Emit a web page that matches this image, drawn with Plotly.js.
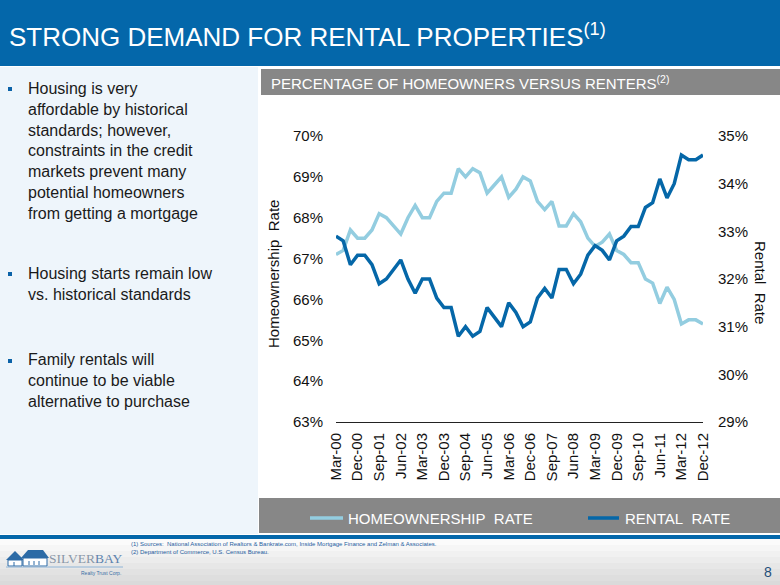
<!DOCTYPE html>
<html>
<head>
<meta charset="utf-8">
<script src="https://cdn.plot.ly/plotly-3.0.1.min.js"></script>
<style>
html,body{margin:0;padding:0;background:#fff;}
#chart{width:780px;height:585px;}
</style>
</head>
<body>
<div id="chart"></div>
<script>
// ---------- DATA ----------
const quarters = [
  "Mar-00","Jun-00","Sep-00","Dec-00",
  "Mar-01","Jun-01","Sep-01","Dec-01",
  "Mar-02","Jun-02","Sep-02","Dec-02",
  "Mar-03","Jun-03","Sep-03","Dec-03",
  "Mar-04","Jun-04","Sep-04","Dec-04",
  "Mar-05","Jun-05","Sep-05","Dec-05",
  "Mar-06","Jun-06","Sep-06","Dec-06",
  "Mar-07","Jun-07","Sep-07","Dec-07",
  "Mar-08","Jun-08","Sep-08","Dec-08",
  "Mar-09","Jun-09","Sep-09","Dec-09",
  "Mar-10","Jun-10","Sep-10","Dec-10",
  "Mar-11","Jun-11","Sep-11","Dec-11",
  "Mar-12","Jun-12","Sep-12","Dec-12"
];
const homeownershipRate = [
  67.1,67.2,67.7,67.5, 67.5,67.7,68.1,68.0, 67.8,67.6,68.0,68.3,
  68.0,68.0,68.4,68.6, 68.6,69.2,69.0,69.2, 69.1,68.6,68.8,69.0,
  68.5,68.7,69.0,68.9, 68.4,68.2,68.4,67.8, 67.8,68.1,67.9,67.5,
  67.3,67.4,67.6,67.2, 67.1,66.9,66.9,66.5, 66.4,65.9,66.3,66.0,
  65.4,65.5,65.5,65.4
];
const rentalRate = [
  32.9,32.8,32.3,32.5, 32.5,32.3,31.9,32.0, 32.2,32.4,32.0,31.7,
  32.0,32.0,31.6,31.4, 31.4,30.8,31.0,30.8, 30.9,31.4,31.2,31.0,
  31.5,31.3,31.0,31.1, 31.6,31.8,31.6,32.2, 32.2,31.9,32.1,32.5,
  32.7,32.6,32.4,32.8, 32.9,33.1,33.1,33.5, 33.6,34.1,33.7,34.0,
  34.6,34.5,34.5,34.6
];
const tickLabels = ["Mar-00","Dec-00","Sep-01","Jun-02","Mar-03","Dec-03","Sep-04","Jun-05","Mar-06",
  "Dec-06","Sep-07","Jun-08","Mar-09","Dec-09","Sep-10","Jun-11","Mar-12","Dec-12"];
const leftTicks = [63,64,65,66,67,68,69,70];
const rightTicks = [29,30,31,32,33,34,35];
const seriesNames = ["HOMEOWNERSHIP\u00A0 RATE","RENTAL\u00A0 RATE"];

// ---------- LAYOUT HELPERS ----------
const W = 780, H = 585;
const px = x => x / W;
const py = y => 1 - y / H;
const FONT = "Liberation Sans, Arial, Helvetica, sans-serif";
const LIGHT = "#93CDE0", DARK = "#0567A8", BLUE = "#0467AA", GREY = "#878787";

function rect(x0, y0, x1, y1, color, layer) {
  return {type:"rect", xref:"paper", yref:"paper", x0:px(x0), x1:px(x1), y0:py(y1), y1:py(y0),
          fillcolor:color, line:{width:0}, layer:layer || "below"};
}
function pathShape(points, fill, lineColor, lw) {
  let d = points.map((p,i) => (i ? "L" : "M") + px(p[0]) + "," + py(p[1])).join(" ") + " Z";
  return {type:"path", xref:"paper", yref:"paper", path:d, fillcolor:fill,
          line:{color:lineColor || fill, width:lw || 0}, layer:"above"};
}
function lineShape(x0, y0, x1, y1, color, w) {
  return {type:"line", xref:"paper", yref:"paper", x0:px(x0), x1:px(x1), y0:py(y0), y1:py(y1),
          line:{color:color, width:w}, layer:"above"};
}
function ann(text, x, y, size, color, opts) {
  return Object.assign({xref:"paper", yref:"paper", x:px(x), y:py(y), text:text, showarrow:false,
    xanchor:"left", yanchor:"middle", align:"left", font:{family:FONT, size:size, color:color}}, opts || {});
}

const shapes = [];
// top title band
shapes.push(rect(0, 0, 780, 66, BLUE));
// left panel background
shapes.push(rect(0, 67, 258, 534, "#EEF5FB"));
// header bar
shapes.push(rect(261, 69, 780, 95, GREY));
// legend bar
shapes.push(rect(259, 498, 780, 533, GREY));
// footer gradient
const footerSteps = ["#FBFBFB","#F6F6F6","#F1F1F1","#ECECEC","#E7E7E7","#E2E2E2","#DEDEDE","#DADADA"];
footerSteps.forEach((c, i) => shapes.push(rect(0, 539 + i * 6, 780, 545 + i * 6 + 1, c)));
// bottom blue rule
shapes.push(rect(0, 535, 780, 539, BLUE));
// bullets
[[87],[272],[359]].forEach(b => shapes.push(rect(8, b[0], 12, b[0] + 4, "#0B62A8", "above")));
// legend samples (colours taken from the series)
shapes.push(lineShape(310, 518, 343, 518, LIGHT, 3.5));
shapes.push(lineShape(588, 518, 619, 518, DARK, 3.5));
// logo houses
shapes.push(pathShape([[6,560],[15,551],[24,560]], "#2C6BA6"));
shapes.push(pathShape([[8,560],[22,560],[22,566],[8,566]], "#FFFFFF", "#2C6BA6", 1));
shapes.push(pathShape([[21,558],[28,550],[43,550],[49,558]], "#2C6BA6"));
shapes.push(pathShape([[23,558],[47,558],[47,566],[23,566]], "#FFFFFF", "#2C6BA6", 1));
[[14,562],[29,561],[34,561],[39,561]].forEach(w => shapes.push(lineShape(w[0], w[1], w[0], w[1] + 4, "#2C6BA6", 1)));
shapes.push(lineShape(6, 567, 123, 567, "#8FB4D6", 1));

const annotations = [
  ann("STRONG DEMAND FOR RENTAL PROPERTIES<sup>(1)</sup>", 7, 35, 26, "#FFFFFF"),
  ann("PERCENTAGE OF HOMEOWNERS VERSUS RENTERS<sup>(2)</sup>", 269, 82.5, 15, "#FFFFFF"),
  ann("Housing is very<br>affordable by historical<br>standards; however,<br>constraints in the credit<br>markets prevent many<br>potential homeowners<br>from getting a mortgage",
      26, 151, 16, "#1A1A1A"),
  ann("Housing starts remain low<br>vs. historical standards", 26, 284, 16, "#1A1A1A"),
  ann("Family rentals will<br>continue to be viable<br>alternative to purchase", 26, 380.5, 16, "#1A1A1A"),
  ann("Homeownership\u00A0 Rate", 273, 274, 15, "#111111", {xanchor:"center", textangle:-90}),
  ann("Rental\u00A0 Rate", 761, 282, 15, "#111111", {xanchor:"center", textangle:90}),
  ann(seriesNames[0], 346, 518, 15, "#FFFFFF"),
  ann(seriesNames[1], 623, 518, 15, "#FFFFFF"),
  ann("(1) Sources:\u00A0 National Association of Realtors &amp; Bankrate.com, Inside Mortgage Finance and Zelman &amp; Associates.<br>(2) Department of Commerce, U.S. Census Bureau.",
      129, 548, 6, "#1F5D9E"),
  ann("8", 768, 572, 14, "#1F4E79", {xanchor:"center"}),
  ann("<span style='color:#8A97A8'>SILVER</span><span style='color:#5E83AE'>BAY</span>", 47, 558, 13.5, "#8A97A8",
      {font:{family:"Liberation Serif, Times New Roman, serif", size:13.5, color:"#8A97A8"}}),
  ann("Realty Trust Corp.", 123, 573, 5, "#3A6EA5", {xanchor:"right"})
];

const traces = [
  {x: quarters, y: homeownershipRate, name: seriesNames[0], type: "scatter", mode: "lines",
   line: {color: LIGHT, width: 3.5}, yaxis: "y", hoverinfo: "skip"},
  {x: quarters, y: rentalRate, name: seriesNames[1], type: "scatter", mode: "lines",
   line: {color: DARK, width: 3.5}, yaxis: "y2", hoverinfo: "skip"}
];

const tickFont = {family: FONT, size: 15, color: "#111111"};
const layout = {
  width: W, height: H, autosize: false,
  margin: {l: 0, r: 0, t: 0, b: 0, pad: 0},
  paper_bgcolor: "#FFFFFF", plot_bgcolor: "rgba(0,0,0,0)",
  showlegend: false,
  xaxis: {type: "category", domain: [px(336), px(703)], range: [0, 51], tickmode: "array",
          tickvals: tickLabels, ticktext: tickLabels, tickangle: -90, tickfont: tickFont,
          showline: true, linecolor: "#222222", linewidth: 1, showgrid: false, zeroline: false,
          ticks: "", ticklabelstandoff: 4, fixedrange: true},
  yaxis: {domain: [py(422), py(136)], range: [63, 70], tickmode: "array", tickvals: leftTicks,
          ticktext: leftTicks.map(v => v + "%"), tickfont: tickFont, showgrid: false, zeroline: false,
          showline: false, ticks: "", ticklabelstandoff: 12, fixedrange: true},
  yaxis2: {overlaying: "y", side: "right", range: [29, 35], tickmode: "array", tickvals: rightTicks,
           ticktext: rightTicks.map(v => v + "%"), tickfont: tickFont, showgrid: false, zeroline: false,
           showline: false, ticks: "", ticklabelstandoff: 14, fixedrange: true},
  shapes: shapes,
  annotations: annotations
};

Plotly.newPlot("chart", traces, layout, {displayModeBar: false, staticPlot: true});
</script>
</body>
</html>
